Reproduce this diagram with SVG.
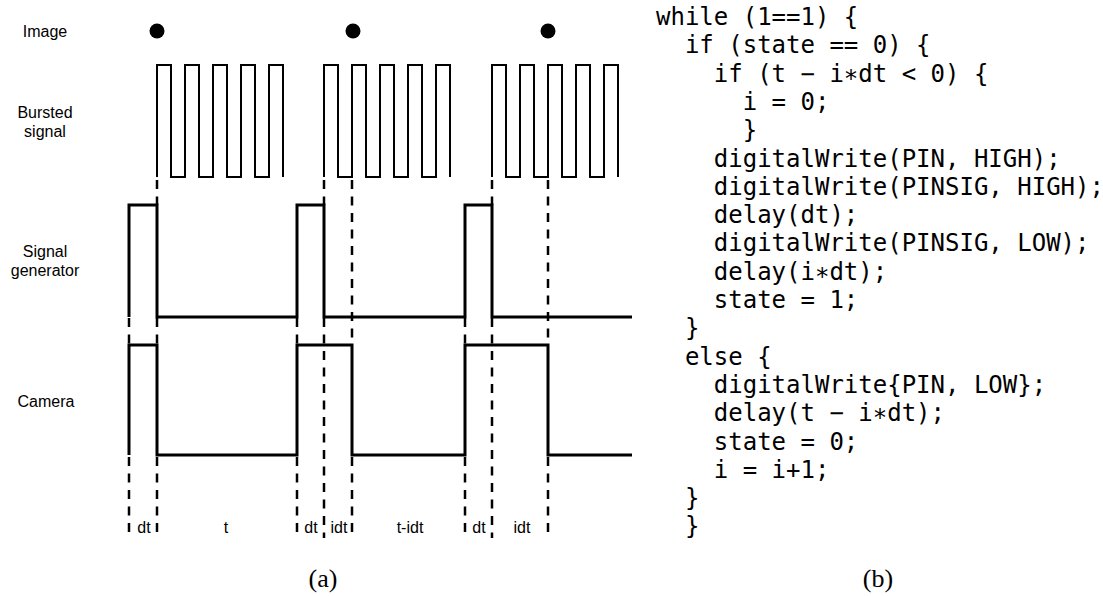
<svg xmlns="http://www.w3.org/2000/svg" width="1103" height="596" viewBox="0 0 1103 596">
<style>
.lbl{font-family:"Liberation Sans",Arial,sans-serif;font-size:16px;fill:#000;text-anchor:middle}
.code{font-family:"DejaVu Sans Mono",monospace;font-size:24px;fill:#000;white-space:pre}
.cap{font-family:"Liberation Serif","DejaVu Serif",serif;font-size:26px;fill:#000;text-anchor:middle}
.burst{fill:none;stroke:#000;stroke-width:2;stroke-linejoin:miter}
.wave{fill:none;stroke:#000;stroke-width:3;stroke-linejoin:miter}
.dash{fill:none;stroke:#000;stroke-width:2.5;stroke-dasharray:9 7.5}
</style>
<rect width="1103" height="596" fill="#fff"/>
<g id="row-labels">
<text class="lbl" x="45" y="37">Image</text>
<text class="lbl" x="45" y="118">Bursted</text>
<text class="lbl" x="45" y="137">signal</text>
<text class="lbl" x="45" y="257">Signal</text>
<text class="lbl" x="45" y="276">generator</text>
<text class="lbl" x="46" y="407">Camera</text>
</g>
<g id="image-dots">
<circle cx="157" cy="31" r="7.5" fill="#000"/>
<circle cx="353" cy="31" r="7.5" fill="#000"/>
<circle cx="548" cy="31" r="7.5" fill="#000"/>
</g>
<g id="bursted-signal">
<path class="burst" d="M157,177 V65 H171 V177 H185 V65 H199 V177 H213 V65 H227 V177 H241 V65 H255 V177 H269 V65 H283 V177"/>
<path class="burst" d="M324,177 V65 H338 V177 H352 V65 H366 V177 H380 V65 H394 V177 H408 V65 H422 V177 H436 V65 H450 V177"/>
<path class="burst" d="M492,177 V65 H506 V177 H520 V65 H534 V177 H548 V65 H562 V177 H576 V65 H590 V177 H604 V65 H618 V177"/>
</g>
<g id="signal-generator">
<path class="wave" d="M129,317 V205 H157 V317 H297 V205 H324 V317 H465 V205 H492 V317 H632"/>
</g>
<g id="camera">
<path class="wave" d="M129,455 V345 H157 V455 H297 V345 H352 V455 H465 V345 H548 V455 H632"/>
</g>
<g id="connectors">
<path class="dash" d="M129,318 V345 M129,457 V538"/>
<path class="dash" d="M157,180 V205 M157,318 V345 M157,457 V538"/>
<path class="dash" d="M297,318 V345 M297,457 V538"/>
<path class="dash" d="M324,180 V205 M324,318 V538"/>
<path class="dash" d="M352,180 V345 M352,457 V538"/>
<path class="dash" d="M465,318 V345 M465,457 V538"/>
<path class="dash" d="M492,180 V205 M492,318 V538"/>
<path class="dash" d="M548,180 V345 M548,457 V538"/>
</g>
<g id="interval-labels">
<text class="lbl" x="144" y="533">dt</text>
<text class="lbl" x="226" y="533">t</text>
<text class="lbl" x="311" y="533">dt</text>
<text class="lbl" x="339" y="533">idt</text>
<text class="lbl" x="410" y="533">t-idt</text>
<text class="lbl" x="479" y="533">dt</text>
<text class="lbl" x="522" y="533">idt</text>
</g>
<g id="code">
<text class="code" x="656" y="25">while (1==1) {</text>
<text class="code" x="656" y="53.3">  if (state == 0) {</text>
<text class="code" x="656" y="81.6">    if (t − i∗dt &lt; 0) {</text>
<text class="code" x="656" y="109.9">      i = 0;</text>
<text class="code" x="656" y="138.2">      }</text>
<text class="code" x="656" y="166.5">    digitalWrite(PIN, HIGH);</text>
<text class="code" x="656" y="194.8">    digitalWrite(PINSIG, HIGH);</text>
<text class="code" x="656" y="223.1">    delay(dt);</text>
<text class="code" x="656" y="251.4">    digitalWrite(PINSIG, LOW);</text>
<text class="code" x="656" y="279.7">    delay(i∗dt);</text>
<text class="code" x="656" y="308">    state = 1;</text>
<text class="code" x="656" y="336.3">  }</text>
<text class="code" x="656" y="364.6">  else {</text>
<text class="code" x="656" y="392.9">    digitalWrite{PIN, LOW};</text>
<text class="code" x="656" y="421.2">    delay(t − i∗dt);</text>
<text class="code" x="656" y="449.5">    state = 0;</text>
<text class="code" x="656" y="477.8">    i = i+1;</text>
<text class="code" x="656" y="506.1">  }</text>
<text class="code" x="656" y="534.4">  }</text>
</g>
<g id="captions">
<text class="cap" x="323" y="587">(a)</text>
<text class="cap" x="878" y="587">(b)</text>
</g>
</svg>
